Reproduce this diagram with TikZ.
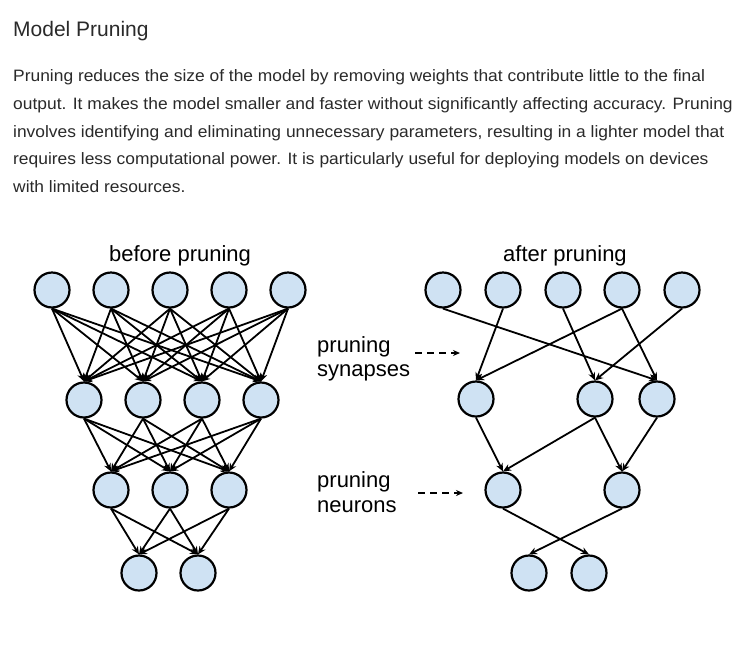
\documentclass[tikz,border=0pt]{standalone}
\usepackage{fontspec}
\setmainfont{Liberation Sans}
\newfontfamily\bodyfont[FakeStretch=1.055]{Liberation Sans}
\usetikzlibrary{arrows.meta}
\definecolor{cellblue}{HTML}{CFE2F3}
\definecolor{inkgray}{HTML}{2A2A2A}
\begin{document}
\begin{tikzpicture}[x=1pt,y=-1pt,
  neuron/.style={circle,draw=black,fill=cellblue,line width=2.2pt,minimum size=35pt,inner sep=0pt},
  syn/.style={line width=1.8pt,-{Stealth[length=8pt,width=7pt]}},
  hint/.style={line width=1.8pt,dash pattern=on 7pt off 5pt,-{Stealth[length=7pt,width=6pt]}},
  para/.style={anchor=base west,inner sep=0pt,text=inkgray,font=\bodyfont\fontsize{16.5}{18}\selectfont},
  lbl/.style={anchor=base west,inner sep=0pt,font=\fontsize{22}{26}\selectfont}]
\useasboundingbox[fill=white] (0,0) rectangle (755,662);
\node[para,font=\fontsize{21}{24}\selectfont] (title) at (13,36.7) {Model Pruning};
\node[para] (p1) at (13,81.5) {Pruning reduces the size of the model by removing weights that contribute little to the final};
\node[para] (p2) at (13,109.3) {output. It makes the model smaller and faster without significantly affecting accuracy. Pruning};
\node[para] (p3) at (13,137) {involves identifying and eliminating unnecessary parameters, resulting in a lighter model that};
\node[para] (p4) at (13,164.8) {requires less computational power. It is particularly useful for deploying models on devices};
\node[para] (p5) at (13,192.5) {with limited resources.};
\node[lbl,anchor=base] (before) at (180,261) {before pruning};
\node[lbl,anchor=base] (after) at (565,261) {after pruning};
\node[lbl] (syntxt) at (317,352) {pruning};
\node[lbl] (syntxt2) at (317,376) {synapses};
\node[lbl] (neutxt) at (317,487) {pruning};
\node[lbl] (neutxt2) at (317,512) {neurons};
\coordinate (s0) at (415,353);
\coordinate (s1) at (460,353);
\coordinate (n0) at (418,493);
\coordinate (n1) at (463,493);
\draw[hint] (s0) -- (s1);
\draw[hint] (n0) -- (n1);
\foreach \x [count=\i] in {52,111,170,229,288} \node[neuron] (b1\i) at (\x,290) {};
\foreach \x [count=\i] in {84,143,202,261} \node[neuron] (b2\i) at (\x,400) {};
\foreach \x [count=\i] in {111,170,229} \node[neuron] (b3\i) at (\x,490) {};
\foreach \x [count=\i] in {139,198} \node[neuron] (b4\i) at (\x,573) {};
\foreach \i in {1,...,5} \foreach \j in {1,...,4} \draw[syn] (b1\i.south) -- (b2\j.north);
\foreach \i in {1,...,4} \foreach \j in {1,...,3} \draw[syn] (b2\i.south) -- (b3\j.north);
\foreach \i in {1,...,3} \foreach \j in {1,2} \draw[syn] (b3\i.south) -- (b4\j.north);
\foreach \x [count=\i] in {443,503,563,622,682} \node[neuron] (a1\i) at (\x,290) {};
\foreach \x [count=\i] in {476,595,657} \node[neuron] (a2\i) at (\x,399) {};
\foreach \x [count=\i] in {503,622} \node[neuron] (a3\i) at (\x,490) {};
\foreach \x [count=\i] in {529,589} \node[neuron] (a4\i) at (\x,573) {};
\draw[syn] (a11.south) -- (a23.north);
\draw[syn] (a12.south) -- (a21.north);
\draw[syn] (a13.south) -- (a22.north);
\draw[syn] (a14.south) -- (a21.north);
\draw[syn] (a14.south) -- (a23.north);
\draw[syn] (a15.south) -- (a22.north);
\draw[syn] (a21.south) -- (a31.north);
\draw[syn] (a22.south) -- (a31.north);
\draw[syn] (a22.south) -- (a32.north);
\draw[syn] (a23.south) -- (a32.north);
\draw[syn] (a31.south) -- (a42.north);
\draw[syn] (a32.south) -- (a41.north);
\end{tikzpicture}
\end{document}
